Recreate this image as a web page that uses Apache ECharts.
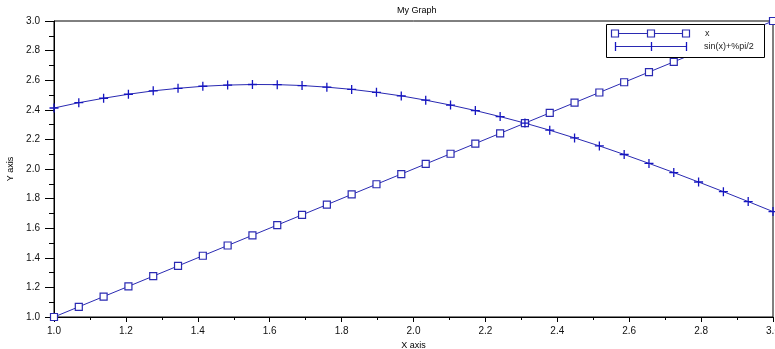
<!DOCTYPE html>
<html><head><meta charset="utf-8">
<script src="https://cdn.jsdelivr.net/npm/echarts@6/dist/echarts.min.js"></script>
<style>html,body{margin:0;padding:0;background:#fff}#c{width:775px;height:349px}</style>
</head><body><div id="c"></div>
<script>
const xValues = [1.000,1.069,1.138,1.207,1.276,1.345,1.414,1.483,1.552,1.621,1.690,1.759,1.828,1.897,1.966,2.034,2.103,2.172,2.241,2.310,2.379,2.448,2.517,2.586,2.655,2.724,2.793,2.862,2.931,3.000];
const seriesX = [1.000,1.069,1.138,1.207,1.276,1.345,1.414,1.483,1.552,1.621,1.690,1.759,1.828,1.897,1.966,2.034,2.103,2.172,2.241,2.310,2.379,2.448,2.517,2.586,2.655,2.724,2.793,2.862,2.931,3.000];
const seriesSin = [2.412,2.448,2.478,2.505,2.528,2.545,2.559,2.567,2.571,2.570,2.564,2.553,2.538,2.518,2.494,2.465,2.432,2.395,2.354,2.310,2.262,2.210,2.156,2.098,2.038,1.976,1.912,1.847,1.780,1.712];
const seriesNames = ['x','sin(x)+%pi/2'];
const chartTitle = 'My Graph';
const xAxisName = 'X axis';
const yAxisName = 'Y axis';

const FONT = 'Liberation Sans, Arial, Helvetica, sans-serif';
const BLUE = '#2a2ab2';
const PLUS = 'path://M0,5L10,5M5,0L5,10';

const chart = echarts.init(document.getElementById('c'), null, {renderer:'canvas'});
const zip = (a,b)=>a.map((v,i)=>[v,b[i]]);

const Z = 50;
chart.setOption({
  animation:false,
  backgroundColor:'#fff',
  textStyle:{fontFamily:FONT},
  title:{text:chartTitle,left:392,top:1,textStyle:{fontSize:9,fontWeight:'normal',color:'#000',fontFamily:FONT}},
  grid:{left:54,top:21,right:2,bottom:32,containLabel:false,outerBoundsMode:'none',show:true,borderColor:'#000',borderWidth:1,backgroundColor:'#fff'},
  xAxis:{type:'value',min:1,max:3,interval:0.2,
    name:xAxisName,nameLocation:'middle',nameGap:17,
    nameTextStyle:{fontSize:9,color:'#000',fontFamily:FONT},
    axisLine:{lineStyle:{color:'#000',width:1}},
    axisTick:{length:5,lineStyle:{color:'#000'}},
    minorTick:{show:true,splitNumber:2,length:3,lineStyle:{color:'#000'}},
    splitLine:{show:false},
    axisLabel:{formatter:v=>v.toFixed(1),fontSize:10,color:'#111',margin:9,fontFamily:FONT,showMaxLabel:true}
  },
  yAxis:{type:'value',min:1,max:3,interval:0.2,
    name:yAxisName,nameLocation:'middle',nameGap:39,nameRotate:90,
    nameTextStyle:{fontSize:9,color:'#000',fontFamily:FONT},
    axisLine:{show:true,lineStyle:{color:'#000',width:1}},
    axisTick:{show:true,length:9,lineStyle:{color:'#000'}},
    minorTick:{show:true,splitNumber:2,length:5,lineStyle:{color:'#000'}},
    splitLine:{show:false},
    axisLabel:{formatter:v=>v.toFixed(1),fontSize:10,color:'#111',margin:14,fontFamily:FONT}
  },
  series:[
    {name:seriesNames[0],type:'line',data:zip(xValues,seriesX),showAllSymbol:true,
     symbol:'rect',symbolSize:7,
     lineStyle:{color:BLUE,width:1},
     itemStyle:{color:'#fff',borderColor:BLUE,borderWidth:1.2}},
    {name:seriesNames[1],type:'line',data:zip(xValues,seriesSin),showAllSymbol:true,
     symbol:PLUS,symbolSize:9,
     lineStyle:{color:BLUE,width:1},
     itemStyle:{color:'none',borderColor:'#1515c0',borderWidth:1.3}}
  ],
  graphic:[
    {type:'rect',z:Z,shape:{x:606.5,y:24.5,width:158,height:33},style:{fill:'#fff',stroke:'#000',lineWidth:1}},
    {type:'line',z:Z+1,shape:{x1:615,y1:33.5,x2:686,y2:33.5},style:{stroke:BLUE,lineWidth:1}},
    {type:'rect',z:Z+2,shape:{x:611.5,y:30,width:7,height:7},style:{fill:'#fff',stroke:BLUE,lineWidth:1.2}},
    {type:'rect',z:Z+2,shape:{x:647.5,y:30,width:7,height:7},style:{fill:'#fff',stroke:BLUE,lineWidth:1.2}},
    {type:'rect',z:Z+2,shape:{x:682.5,y:30,width:7,height:7},style:{fill:'#fff',stroke:BLUE,lineWidth:1.2}},
    {type:'text',z:Z+2,x:705,y:34,style:{text:seriesNames[0],fontSize:9,fill:'#222',verticalAlign:'middle',fontFamily:FONT}},
    {type:'line',z:Z+1,shape:{x1:615,y1:46.5,x2:686,y2:46.5},style:{stroke:BLUE,lineWidth:1}},
    {type:'line',z:Z+2,shape:{x1:615.5,y1:42,x2:615.5,y2:51},style:{stroke:'#1515c0',lineWidth:1.3}},
    {type:'line',z:Z+2,shape:{x1:651.5,y1:42,x2:651.5,y2:51},style:{stroke:'#1515c0',lineWidth:1.3}},
    {type:'line',z:Z+2,shape:{x1:686.5,y1:42,x2:686.5,y2:51},style:{stroke:'#1515c0',lineWidth:1.3}},
    {type:'text',z:Z+2,x:704,y:47,style:{text:seriesNames[1],fontSize:9,fill:'#222',verticalAlign:'middle',fontFamily:FONT}}
  ]
});
</script></body></html>
